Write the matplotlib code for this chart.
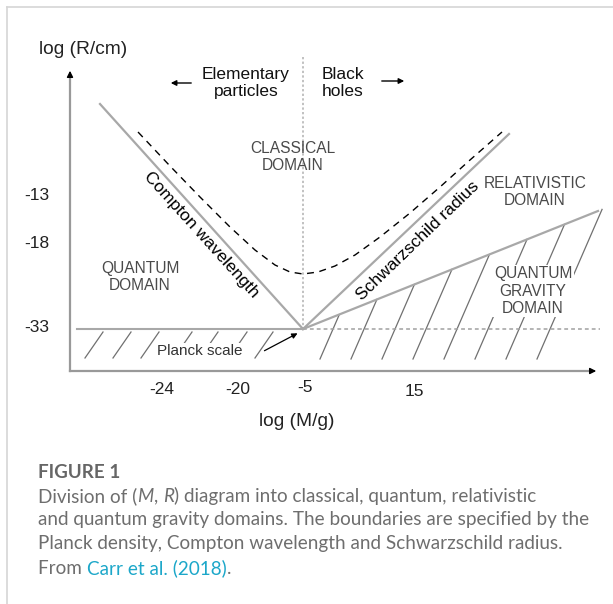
import numpy as np
import matplotlib.pyplot as plt

# -----------------------
# Schematic diagram (units = pixels of the figure, diagram is not to scale)
# -----------------------
W, H = 613, 604

# tick labels and where they sit along the axes
x_tick_labels = ['-24', '-20', '-5', '15']
x_tick_pos = [162, 238, 305, 414]
x_tick_y = [390, 390, 388, 392]
y_tick_labels = ['-13', '-18', '-33']
y_tick_pos = [196, 243, 328]

# boundary lines, all meeting at the Planck point
planck_pt = (303, 329)
compton_end = (100, 104)
schwarz_end = (509, 134)
density_end = (598, 211)

# dashed curve
dash_x = [138, 170, 200, 230, 255, 275, 290, 303, 318, 335, 355, 380, 410, 440, 470, 502]
dash_y = [132, 166, 197, 227, 250, 265, 272, 274, 272, 266, 255, 237, 213, 187, 160, 132]

# hatching
hatch_left_tops = [103, 131, 159, 192, 218, 247, 273]
hatch_right_bottoms = [320, 351, 382, 413, 444, 475, 506, 537]

gray_line = '#a8a8a8'
label_gray = '#4a4a4a'
diag_font = 'Liberation Sans'

fig = plt.figure(figsize=(W / 100, H / 100), dpi=100)
ax = fig.add_axes([0, 0, 1, 1])
ax.set_xlim(0, W)
ax.set_ylim(H, 0)
ax.axis('off')

# page frame
ax.plot([7, 7], [7, H], color='#d6d6d6', lw=1.2)
ax.plot([7, W], [7, 7], color='#d6d6d6', lw=1.2)

# axes with arrow heads
x0, y_ax = 70, 371
ax.plot([x0, x0], [y_ax, 76], color='#999999', lw=1.6, zorder=4)
ax.annotate('', xy=(x0, 68), xytext=(x0, 78),
            arrowprops=dict(arrowstyle='-|>', color='black', lw=1, mutation_scale=9), zorder=5)
ax.plot([x0, 590], [y_ax, y_ax], color='#999999', lw=1.6, zorder=4)
ax.annotate('', xy=(599, y_ax), xytext=(588, y_ax),
            arrowprops=dict(arrowstyle='-|>', color='black', lw=1, mutation_scale=9), zorder=5)

# Planck density horizontal and vertical guides
ax.plot([77, planck_pt[0]], [planck_pt[1], planck_pt[1]], color=gray_line, lw=1.5, zorder=4)
ax.plot([planck_pt[0], 600], [planck_pt[1], planck_pt[1]], color='#a0a0a0', lw=1.1,
        linestyle=(0, (2.5, 2)), zorder=4)
ax.plot([planck_pt[0], planck_pt[0]], [57, planck_pt[1]], color='#b0b0b0', lw=1.1,
        linestyle=(0, (1.5, 1.5)), zorder=2)

# boundaries
for end in (compton_end, schwarz_end, density_end):
    ax.plot([planck_pt[0], end[0]], [planck_pt[1], end[1]], color=gray_line, lw=1.6, zorder=4)

ax.plot(dash_x, dash_y, color='black', lw=1.0, linestyle=(0, (5, 4)), zorder=4)

# hatching: left strip below Planck scale
for xt in hatch_left_tops:
    ax.plot([xt, xt - 18], [332, 358], color='#707070', lw=0.9, zorder=1)

# hatching: quantum gravity domain
m = (density_end[1] - planck_pt[1]) / (density_end[0] - planck_pt[0])
s = 2.3
for xb in hatch_right_bottoms:
    t = (359 - planck_pt[1] - m * (xb - planck_pt[0])) / (s + m)
    ax.plot([xb, xb + t], [359, 359 - s * t], color='#707070', lw=0.9, zorder=1)

# small arrows
ax.annotate('', xy=(168, 83), xytext=(194, 83),
            arrowprops=dict(arrowstyle='-|>', color='black', lw=1, mutation_scale=8))
ax.annotate('', xy=(407, 81), xytext=(379, 81),
            arrowprops=dict(arrowstyle='-|>', color='black', lw=1, mutation_scale=8))
ax.annotate('', xy=(300, 332), xytext=(262, 352),
            arrowprops=dict(arrowstyle='-|>', color='black', lw=0.9, mutation_scale=8), zorder=5)

# texts of the diagram
tk = dict(family=diag_font, fontsize=12.5, color='#222222', ha='center', va='center')
for lab, xp, yp in zip(x_tick_labels, x_tick_pos, x_tick_y):
    ax.text(xp, yp, lab, **tk)
for lab, yp in zip(y_tick_labels, y_tick_pos):
    ax.text(37, yp, lab, **tk)

ax.text(83, 50, 'log (R/cm)', family=diag_font, fontsize=13.8, color='#222222', ha='center', va='center')
ax.text(297, 422, 'log (M/g)', family=diag_font, fontsize=13.8, color='#222222', ha='center', va='center')
ax.text(246, 83, 'Elementary\nparticles', family=diag_font, fontsize=12.5, color='#111111',
        ha='center', va='center', linespacing=1.2)
ax.text(322, 83, 'Black\nholes', family=diag_font, fontsize=12.5, color='#111111',
        ha='left', va='center', linespacing=1.2)

dom = dict(family=diag_font, fontsize=11.2, color=label_gray, ha='center', va='center', linespacing=1.2)
ax.text(293, 157, 'CLASSICAL\nDOMAIN', **dom)
ax.text(535, 192, 'RELATIVISTIC\nDOMAIN', **dom)
ax.text(140, 277, 'QUANTUM\nDOMAIN', **dom)
ax.text(533, 291, 'QUANTUM\nGRAVITY\nDOMAIN', zorder=3,
        bbox=dict(facecolor='white', edgecolor='none', pad=1), **dom)
ax.text(200, 351, 'Planck scale', family=diag_font, fontsize=11, color='#333333',
        ha='center', va='center', zorder=3, bbox=dict(facecolor='white', edgecolor='none', pad=0.5))

ax.text(201, 235, 'Compton wavelength', family=diag_font, fontsize=12.5, color='black',
        rotation=-48, rotation_mode='anchor', ha='center', va='center')
ax.text(418, 241, 'Schwarzschild radius', family=diag_font, fontsize=12.5, color='black',
        rotation=44, rotation_mode='anchor', ha='center', va='center')

# -----------------------
# Caption
# -----------------------
cap_font = 'Lato'
cap_size = 13.6
cap_gray = '#6e6e6e'
link_col = '#1ca7c9'
ax.text(38, 472, 'FIGURE 1', family=cap_font, fontsize=cap_size, color='#666666',
        fontweight='bold', ha='left', va='center')

renderer = fig.canvas.get_renderer()


def put_pieces(x, y, pieces):
    for txt, style, col in pieces:
        t = ax.text(x, y, txt, family=cap_font, fontsize=cap_size, color=col, style=style,
                    ha='left', va='center')
        bb = t.get_window_extent(renderer=renderer)
        x += bb.width


caption_lines = [
    [('Division of (', 'normal', cap_gray), ('M', 'italic', cap_gray), (', ', 'normal', cap_gray),
     ('R', 'italic', cap_gray), (') diagram into classical, quantum, relativistic', 'normal', cap_gray)],
    [('and quantum gravity domains. The boundaries are specified by the', 'normal', cap_gray)],
    [('Planck density, Compton wavelength and Schwarzschild radius.', 'normal', cap_gray)],
    [('From ', 'normal', cap_gray), ('Carr et al. (2018)', 'normal', link_col), ('.', 'normal', cap_gray)],
]
for i, line in enumerate(caption_lines):
    put_pieces(38, 496 + 24 * i, line)

fig.savefig('out.png', dpi=100)
